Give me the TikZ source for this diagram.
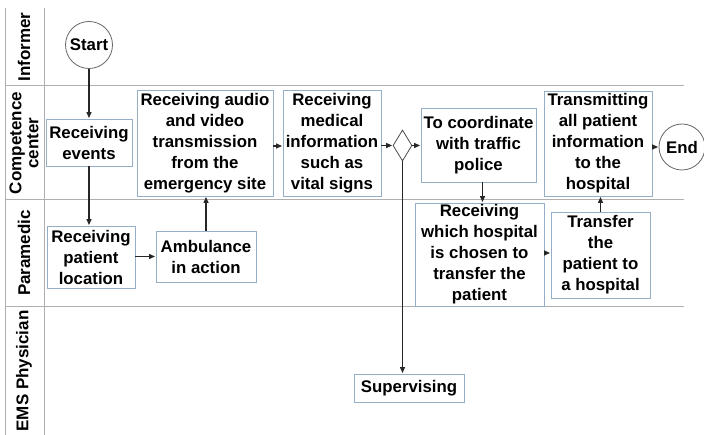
\documentclass[tikz,border=0pt]{standalone}
\usepackage{fontspec}
\setmainfont{Liberation Sans}
\usetikzlibrary{shapes.geometric,arrows.meta,calc}
\definecolor{boxline}{RGB}{150,175,200}
\definecolor{laneline}{RGB}{175,175,175}
\begin{document}
\begin{tikzpicture}[x=1pt,y=-1pt,
  txt/.style={font=\fontsize{16.8}{21}\selectfont\bfseries, align=center, inner sep=1pt},
  proc/.style={txt, draw=boxline, line width=0.9pt, fill=white},
  term/.style={txt, circle, draw=black!60, line width=0.8pt, minimum size=47pt},
  gate/.style={diamond, draw=black!70, line width=0.8pt, minimum width=19pt, minimum height=31pt, inner sep=0pt, aspect=0.6},
  lanelbl/.style={font=\fontsize{17}{17}\selectfont\bfseries, align=center, rotate=90, inner sep=0pt},
  flow/.style={-{Triangle[length=6pt,width=5pt]}, line width=1.3pt, black!85, shorten >=0.5pt},
  lane/.style={draw=laneline, line width=1pt}]
\useasboundingbox (0,0) rectangle (704,435);
% lanes
\draw[lane] (5,8) -- (5,435);
\draw[lane] (44,8) -- (44,435);
\draw[lane] (5,86) -- (684,86);
\draw[lane] (5,200) -- (684,200);
\draw[lane] (5,307) -- (684,307);
\node[lanelbl] (l1) at (24,47) {Informer};
\node[lanelbl] (l2) at (24,143) {Competence\\center};
\node[lanelbl] (l3) at (24,253) {Paramedic};
\node[lanelbl] (l4) at (24,371) {EMS Physician};
% nodes
\node[term] (start) at (89,45) {Start};
\node[proc, minimum width=86pt, minimum height=47pt] (ev) at (89,142.5) {Receiving\\events};
\node[proc, minimum width=136pt, minimum height=106pt] (audio) at (205,143) {Receiving audio\\and video\\transmission\\from the\\emergency site};
\node[proc, minimum width=98pt, minimum height=106pt] (med) at (332,143) {Receiving\\medical\\information\\such as\\vital signs};
\node[gate] (d) at (402.5,145.5) {};
\node[proc, minimum width=115pt, minimum height=74pt] (coord) at (478.5,145) {To coordinate\\with traffic\\police};
\node[proc, minimum width=108pt, minimum height=105pt] (trans) at (598,143.5) {Transmitting\\all patient\\information\\to the\\hospital};
\node[term, minimum size=46pt] (end) at (682,147) {End};
\node[proc, minimum width=88pt, minimum height=62pt] (loc) at (91,257) {Receiving\\patient\\location};
\node[proc, minimum width=100pt, minimum height=51pt] (amb) at (206,256.5) {Ambulance\\in action};
\node[proc, minimum width=129pt, minimum height=103pt] (which) at (479.5,254.5) {Receiving\\which hospital\\is chosen to\\transfer the\\patient};
\node[proc, minimum width=99pt, minimum height=86pt] (transfer) at (600.5,255) {Transfer\\the\\patient to\\a hospital};
\node[proc, minimum width=110pt, minimum height=28pt] (sup) at (409,388) {Supervising};
% connectors
\draw[flow] (start) -- (ev);
\draw[flow] (ev) -- (ev.south |- loc.north);
\draw[flow] (loc.east |- amb) -- (amb);
\draw[flow] (amb) -- (amb.north |- audio.south);
\draw[flow] (audio.east |- 0,146) -- (med.west |- 0,146);
\draw[flow] (med.east |- d) -- (d.west);
\draw[flow] (d.east) -- (coord.west |- d);
\draw[flow] (d.south) -- (d.south |- sup.north);
\draw[flow] ([xshift=4pt]coord.south) -- ([xshift=4pt]coord.south |- which.north);
\draw[flow] (which.east |- 0,253) -- (transfer.west |- 0,253);
\draw[flow] (transfer.north) -- (transfer.north |- trans.south);
\draw[flow] (trans.east |- end) -- (end);
\end{tikzpicture}
\end{document}
